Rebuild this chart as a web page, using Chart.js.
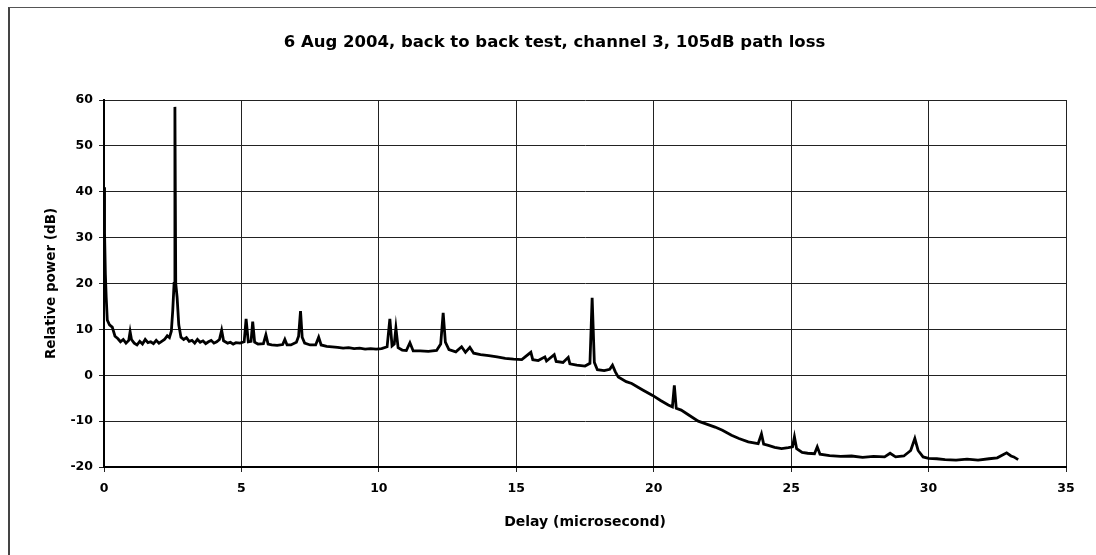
<!DOCTYPE html>
<html>
<head>
<meta charset="utf-8">
<script src="https://cdn.jsdelivr.net/npm/chart.js@4/dist/chart.umd.min.js"></script>
<style>
    body { margin: 0; background: #fff; }
    #wrap { position: relative; width: 1096px; height: 555px; }
    #frame { position: absolute; left: 8px; top: 7px; right: 0; bottom: 0; border-left: 2px solid #444; border-top: 1px solid #555; pointer-events: none; }
</style>
</head>
<body>
<div id="wrap">
    <canvas id="delayChart" width="1096" height="555"></canvas>
    <div id="frame"></div>
</div>
<script>
const chartTitle = '6 Aug 2004, back to back test, channel 3, 105dB path loss';
const xTitle = 'Delay (microsecond)';
const yTitle = 'Relative power (dB)';

const xTickValues = [0, 5, 10, 15, 20, 25, 30, 35];
const yTickValues = [-20, -10, 0, 10, 20, 30, 40, 50, 60];

// delay in microseconds
const delayUs = [
    0, 0.02, 0.05, 0.08, 0.12, 0.2, 0.3, 0.4, 0.5, 0.6,
    0.7, 0.8, 0.9, 0.95, 1.0, 1.1, 1.2, 1.3, 1.4, 1.5,
    1.6, 1.7, 1.8, 1.9, 2.0, 2.1, 2.2, 2.3, 2.38, 2.45,
    2.5, 2.55, 2.58, 2.61, 2.66, 2.72, 2.8, 2.9, 3.0, 3.1,
    3.2, 3.3, 3.4, 3.5, 3.6, 3.7, 3.8, 3.9, 4.0, 4.1,
    4.2, 4.28, 4.35, 4.5, 4.6, 4.7, 4.8, 4.95, 5.1, 5.17,
    5.25, 5.35, 5.41, 5.48, 5.6, 5.8, 5.89, 5.97, 6.1, 6.3,
    6.5, 6.58, 6.66, 6.8, 7.0, 7.08, 7.15, 7.21, 7.3, 7.5,
    7.7, 7.81, 7.9, 8.1, 8.3, 8.5, 8.7, 8.9, 9.1, 9.3,
    9.5, 9.7, 9.9, 10.1, 10.3, 10.4, 10.48, 10.56, 10.62, 10.7,
    10.85, 11.0, 11.13, 11.25, 11.5, 11.8, 12.1, 12.25, 12.34, 12.42,
    12.55, 12.8, 13.01, 13.15, 13.31, 13.45, 13.7, 14.0, 14.3, 14.6,
    14.9, 15.2, 15.53, 15.6, 15.8, 16.04, 16.1, 16.38, 16.45, 16.7,
    16.89, 16.95, 17.2, 17.5, 17.68, 17.76, 17.84, 17.95, 18.2, 18.4,
    18.5, 18.6, 18.71, 19.0, 19.2, 19.6, 19.96, 20.25, 20.53, 20.68,
    20.75, 20.82, 21.0, 21.26, 21.62, 21.9, 22.23, 22.5, 22.83, 23.1,
    23.44, 23.8, 23.92, 24.0, 24.17, 24.4, 24.65, 24.9, 25.05, 25.12,
    25.2, 25.4, 25.6, 25.85, 25.95, 26.05, 26.4, 26.8, 27.2, 27.6,
    28.0, 28.4, 28.6, 28.8, 29.1, 29.35, 29.5, 29.62, 29.8, 30.0,
    30.3, 30.6, 31.0, 31.4, 31.8, 32.2, 32.5, 32.84, 33.0, 33.1,
    33.26
];

// relative power in dB at each delay
const powerDb = [
    41, 31, 22, 17, 12, 11, 10.5, 8.5, 8, 7.3,
    7.8, 7.0, 7.6, 9.5, 7.8, 7.0, 6.6, 7.4, 6.8, 7.8,
    7.1, 7.3, 6.9, 7.6, 7.0, 7.4, 7.8, 8.6, 8.2, 9.6,
    14, 20, 58.5, 20, 17, 11, 8.3, 7.8, 8.2, 7.4,
    7.6, 7.0, 7.8, 7.2, 7.5, 6.9, 7.3, 7.6, 7.0, 7.3,
    7.8, 9.8, 7.5, 7.0, 7.2, 6.8, 7.1, 7.0, 7.3, 12.3,
    7.3, 7.4, 11.7, 7.2, 6.8, 6.9, 8.8, 6.8, 6.6, 6.5,
    6.7, 7.8, 6.6, 6.6, 7.2, 8.5, 14.0, 8.3, 7.0, 6.6,
    6.6, 8.3, 6.6, 6.3, 6.2, 6.1, 5.9, 6.0, 5.8, 5.9,
    5.7, 5.8, 5.7, 5.8, 6.2, 12.3, 6.4, 6.8, 10.3, 6.0,
    5.5, 5.4, 7.1, 5.3, 5.3, 5.2, 5.4, 6.8, 13.6, 7.2,
    5.6, 5.1, 6.2, 5.0, 6.1, 4.8, 4.5, 4.3, 4.0, 3.7,
    3.5, 3.4, 5.0, 3.4, 3.2, 4.0, 3.1, 4.5, 3.0, 2.8,
    3.9, 2.5, 2.2, 2.0, 2.6, 16.9, 2.8, 1.2, 1.0, 1.3,
    2.2, 0.8, -0.4, -1.4, -1.8, -3.2, -4.4, -5.5, -6.5, -6.9,
    -2.2, -7.2, -7.6, -8.6, -10.0, -10.6, -11.3, -12.0, -13.1, -13.8,
    -14.5, -14.9, -12.8, -15.0, -15.3, -15.7, -16.0, -15.8, -15.6, -13.4,
    -16.0, -16.8, -17.0, -17.1, -15.6, -17.2, -17.5, -17.7, -17.6, -17.9,
    -17.7, -17.8, -17.0, -17.8, -17.6, -16.4, -13.8, -16.4, -17.8, -18.1,
    -18.2, -18.4, -18.5, -18.3, -18.5, -18.2, -18.0, -16.9, -17.6, -17.8,
    -18.4
];

const fontFamily = '"DejaVu Sans", Verdana, sans-serif';

function buildPoints() {
    return delayUs.map((d, i) => ({ x: d, y: powerDb[i] }));
}

const ctx = document.getElementById('delayChart').getContext('2d');

const delayChart = new Chart(ctx, {
    type: 'line',
    data: {
        datasets: [{
            data: buildPoints(),
            borderColor: '#000',
            borderWidth: 2.8,
            pointRadius: 0,
            tension: 0,
            fill: false
        }]
    },
    options: {
        responsive: false,
        animation: false,
        devicePixelRatio: 1,
        layout: { padding: { left: 43, right: 30, top: 0, bottom: 0 } },
        plugins: {
            legend: { display: false },
            tooltip: { enabled: false },
            title: {
                display: true,
                text: chartTitle,
                color: '#000',
                font: { family: fontFamily, size: 16.5, weight: 'bold' },
                padding: { top: 33.1, bottom: 47.1 }
            }
        },
        scales: {
            x: {
                type: 'linear',
                min: xTickValues[0],
                max: xTickValues[xTickValues.length - 1],
                afterFit: (scale) => { scale.height = 88; },
                afterBuildTicks: (scale) => { scale.ticks = xTickValues.map(v => ({ value: v })); },
                ticks: {
                    color: '#000',
                    padding: 9,
                    maxRotation: 0,
                    font: { family: fontFamily, size: 12.5, weight: 'bold' }
                },
                grid: { color: '#222', lineWidth: 1, tickLength: 5 },
                border: { color: '#000', width: 2 },
                title: {
                    display: true,
                    text: xTitle,
                    color: '#000',
                    font: { family: fontFamily, size: 14, weight: 'bold' },
                    padding: { top: 0, bottom: 24.6 }
                }
            },
            y: {
                type: 'linear',
                min: yTickValues[0],
                max: yTickValues[yTickValues.length - 1],
                afterFit: (scale) => { scale.width = 61; },
                afterBuildTicks: (scale) => { scale.ticks = yTickValues.map(v => ({ value: v })); },
                ticks: {
                    color: '#000',
                    padding: 6,
                    font: { family: fontFamily, size: 12.5, weight: 'bold' }
                },
                grid: { color: '#222', lineWidth: 1, tickLength: 5 },
                border: { color: '#000', width: 2 },
                title: {
                    display: true,
                    text: yTitle,
                    color: '#000',
                    font: { family: fontFamily, size: 13.5, weight: 'bold' },
                    padding: { top: 0, bottom: 0 }
                }
            }
        }
    }
});
</script>
</body>
</html>
